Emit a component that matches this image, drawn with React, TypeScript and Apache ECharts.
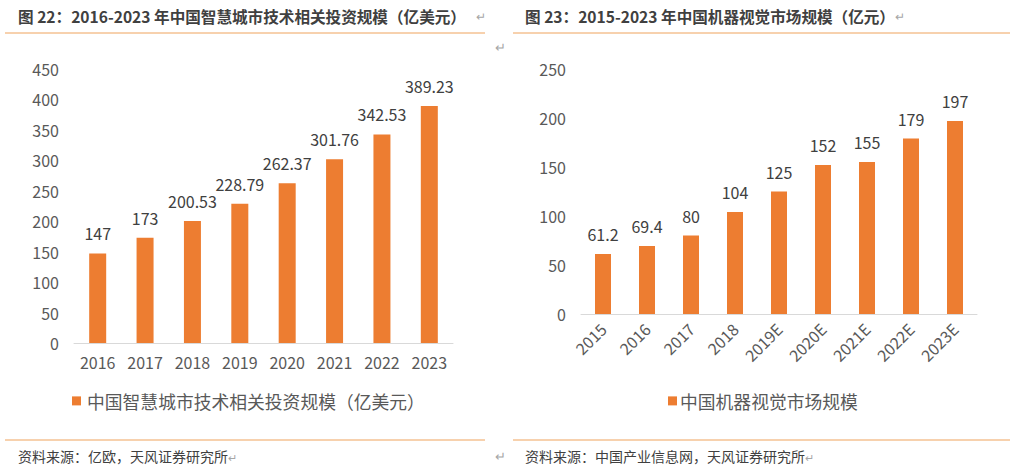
import React, { useEffect, useRef } from "react";
import * as echarts from "echarts";

const leftCategories = ["2016", "2017", "2018", "2019", "2020", "2021", "2022", "2023"];
const leftValues = [147, 173, 200.53, 228.79, 262.37, 301.76, 342.53, 389.23];
const leftSeriesName = "中国智慧城市技术相关投资规模（亿美元）";

const rightCategories = ["2015", "2016", "2017", "2018", "2019E", "2020E", "2021E", "2022E", "2023E"];
const rightValues = [61.2, 69.4, 80, 104, 125, 152, 155, 179, 197];
const rightSeriesName = "中国机器视觉市场规模";

const leftTitle = "图 22：2016-2023 年中国智慧城市技术相关投资规模（亿美元）";
const rightTitle = "图 23：2015-2023 年中国机器视觉市场规模（亿元）";
const leftSource = "资料来源：亿欧，天风证券研究所";
const rightSource = "资料来源：中国产业信息网，天风证券研究所";

const FONT = "'Noto Sans CJK SC', 'Noto Sans', sans-serif";
const BAR = "#ED7D31";
const AXIS_TXT = "#595959";
const LINE = "#EFA35C";
const MARK = "#A6A6A6";

export default function App() {
  const ref = useRef<HTMLDivElement>(null);
  useEffect(() => {
    if (!ref.current) return;
    const chart = echarts.init(ref.current, null, { renderer: "svg" });
    const axisLabel = { color: AXIS_TXT, fontSize: 16, fontFamily: FONT };
    const option: any = {
      animation: false,
      backgroundColor: "#ffffff",
      textStyle: { fontFamily: FONT },
      grid: [
        { left: 74, top: 69, width: 379, height: 274 },
        { left: 581, top: 69, width: 396, height: 245 },
      ],
      xAxis: [
        {
          type: "category",
          gridIndex: 0,
          data: leftCategories,
          axisLine: { lineStyle: { color: "#D9D9D9", width: 1 } },
          axisTick: { show: false },
          axisLabel: { ...axisLabel, margin: 11 },
        },
        {
          type: "category",
          gridIndex: 1,
          data: rightCategories,
          axisLine: { lineStyle: { color: "#D9D9D9", width: 1 } },
          axisTick: { show: false },
          axisLabel: { ...axisLabel, rotate: 45, margin: 12 },
        },
      ],
      yAxis: [
        {
          type: "value",
          gridIndex: 0,
          min: 0,
          max: 450,
          interval: 50,
          splitLine: { show: false },
          axisLine: { show: false },
          axisTick: { show: false },
          axisLabel: { ...axisLabel, margin: 15 },
        },
        {
          type: "value",
          gridIndex: 1,
          min: 0,
          max: 250,
          interval: 50,
          splitLine: { show: false },
          axisLine: { show: false },
          axisTick: { show: false },
          axisLabel: { ...axisLabel, margin: 15 },
        },
      ],
      legend: [
        {
          data: [leftSeriesName],
          left: 67,
          top: 387,
          icon: "rect",
          itemWidth: 9,
          itemHeight: 9,
          textStyle: { color: AXIS_TXT, fontSize: 17.8, fontFamily: FONT, padding: [0, 0, 0, 1] },
        },
        {
          data: [rightSeriesName],
          left: 663,
          top: 387,
          icon: "rect",
          itemWidth: 9,
          itemHeight: 9,
          textStyle: { color: AXIS_TXT, fontSize: 17.8, fontFamily: FONT, padding: [0, 0, 0, -2] },
        },
      ],
      series: [
        {
          name: leftSeriesName,
          type: "bar",
          xAxisIndex: 0,
          yAxisIndex: 0,
          data: leftValues,
          barWidth: 17,
          itemStyle: { color: BAR },
          label: {
            show: true,
            position: "top",
            distance: 12,
            color: "#404040",
            fontSize: 16,
            fontFamily: FONT,
          },
        },
        {
          name: rightSeriesName,
          type: "bar",
          xAxisIndex: 1,
          yAxisIndex: 1,
          data: rightValues,
          barWidth: 16,
          itemStyle: { color: BAR },
          label: {
            show: true,
            position: "top",
            distance: 12,
            color: "#404040",
            fontSize: 16,
            fontFamily: FONT,
          },
        },
      ],
      graphic: [
        {
          type: "text",
          left: 18,
          top: 8,
          style: { text: leftTitle, fill: "#404040", font: `bold 15.6px ${FONT}` },
        },
        {
          type: "text",
          left: 476,
          top: 9,
          style: { text: "↵", fill: MARK, font: `12px ${FONT}` },
        },
        {
          type: "text",
          left: 525,
          top: 8,
          style: { text: rightTitle, fill: "#404040", font: `bold 15.6px ${FONT}` },
        },
        {
          type: "text",
          left: 895,
          top: 9,
          style: { text: "↵", fill: MARK, font: `12px ${FONT}` },
        },
        { type: "line", shape: { x1: 5, y1: 33, x2: 485, y2: 33 }, style: { stroke: LINE, lineWidth: 1 } },
        { type: "line", shape: { x1: 513, y1: 33, x2: 1010, y2: 33 }, style: { stroke: LINE, lineWidth: 1 } },
        {
          type: "text",
          left: 495,
          top: 40,
          style: { text: "↵", fill: MARK, font: `13px ${FONT}` },
        },
        { type: "line", shape: { x1: 5, y1: 440, x2: 485, y2: 440 }, style: { stroke: LINE, lineWidth: 1 } },
        { type: "line", shape: { x1: 513, y1: 440, x2: 1010, y2: 440 }, style: { stroke: LINE, lineWidth: 1 } },
        {
          type: "text",
          left: 18,
          top: 449,
          style: { text: leftSource, fill: "#404040", font: `14px ${FONT}` },
        },
        {
          type: "text",
          left: 228,
          top: 451,
          style: { text: "↵", fill: MARK, font: `11px ${FONT}` },
        },
        {
          type: "text",
          left: 495,
          top: 449,
          style: { text: "↵", fill: MARK, font: `13px ${FONT}` },
        },
        {
          type: "text",
          left: 525,
          top: 449,
          style: { text: rightSource, fill: "#404040", font: `14px ${FONT}` },
        },
        {
          type: "text",
          left: 805,
          top: 451,
          style: { text: "↵", fill: MARK, font: `11px ${FONT}` },
        },
      ],
    };
    chart.setOption(option);
    return () => chart.dispose();
  }, []);
  return (
    <div
      ref={ref}
      style={{ position: "fixed", left: 0, top: 0, width: 1018, height: 476, background: "#fff" }}
    />
  );
}
